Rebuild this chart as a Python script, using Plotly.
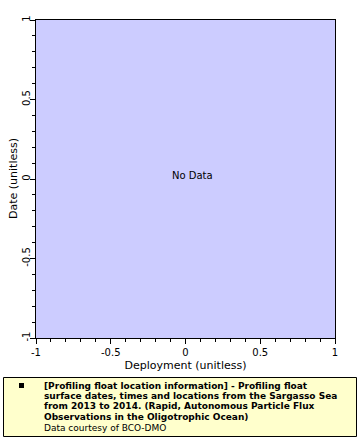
import plotly.graph_objects as go

# Data (no data points in this chart)
x_values = []
y_values = []
tick_vals = [-1, -0.5, 0, 0.5, 1]
tick_text = ["-1", "-0.5", "0", "0.5", "1"]
legend_lines = [
    "[Profiling float location information] - Profiling float",
    "surface dates, times and locations from the Sargasso Sea",
    "from 2013 to 2014. (Rapid, Autonomous Particle Flux",
    "Observations in the Oligotrophic Ocean)",
]
legend_credit = "Data courtesy of BCO-DMO"

W, H = 360, 440
L, R, T, B = 36, 335, 20, 338


def px(x):
    return (x - L) / (R - L)


def py(y):
    return (B - y) / (B - T)


fig = go.Figure()
fig.add_trace(go.Scatter(x=x_values, y=y_values, mode="markers", showlegend=False))

font = "DejaVu Sans, sans-serif"
axis_common = dict(
    range=[-1, 1], tickvals=tick_vals, ticktext=tick_text, automargin=False,
    showgrid=False, zeroline=False, showline=True, linecolor="black", linewidth=1,
    mirror=True, ticks="outside", ticklen=5, tickcolor="black", tickwidth=1,
    tickfont=dict(family=font, size=10, color="black"),
    minor=dict(dtick=0.1, ticks="outside", ticklen=3, tickcolor="black", tickwidth=1),
)

fig.update_layout(
    width=W, height=H,
    margin=dict(l=L, r=W - R, t=T, b=H - B, pad=0),
    paper_bgcolor="white", plot_bgcolor="#ccccff",
    xaxis=dict(**axis_common,
               title=dict(text="Deployment (unitless)", font=dict(family=font, size=11, color="black"), standoff=4)),
    yaxis=dict(**axis_common, tickangle=-90, ticklabelstandoff=-4),
    font=dict(family=font, color="black"),
)

fig.add_annotation(x=px(13), y=0.5, xref="paper", yref="paper", text="Date (unitless)", textangle=-90,
                   showarrow=False, xanchor="center", yanchor="middle",
                   font=dict(family=font, size=11, color="black"))

fig.add_annotation(x=0.05, y=0.02, xref="x", yref="y", text="No Data", showarrow=False,
                   font=dict(family=font, size=10, color="black"))

# Legend box
fig.add_shape(type="rect", xref="paper", yref="paper",
              x0=px(3.5), x1=px(356.5), y0=py(377.5), y1=py(436.5),
              fillcolor="#ffffcc", line=dict(color="black", width=1))
fig.add_shape(type="rect", xref="paper", yref="paper",
              x0=px(19), x1=px(24), y0=py(383), y1=py(388),
              fillcolor="black", line=dict(color="black", width=0))
line_y = [385.5, 396, 406.5, 417]
for txt, yy in zip(legend_lines, line_y):
    fig.add_annotation(x=px(42), y=py(yy), xref="paper", yref="paper", xanchor="left", yanchor="middle",
                       text="<b>" + txt + "</b>", showarrow=False, align="left",
                       font=dict(family=font, size=9, color="black"))
fig.add_annotation(x=px(42), y=py(427.5), xref="paper", yref="paper", xanchor="left", yanchor="middle",
                   text=legend_credit, showarrow=False, align="left",
                   font=dict(family=font, size=9, color="black"))

fig.write_html("out.html", config={"displayModeBar": False})
with open("out.html", encoding="utf-8") as f:
    html = f.read()
html = html.replace("<head>", "<head><style>html,body{margin:0;padding:0;}</style>", 1)
with open("out.html", "w", encoding="utf-8") as f:
    f.write(html)
